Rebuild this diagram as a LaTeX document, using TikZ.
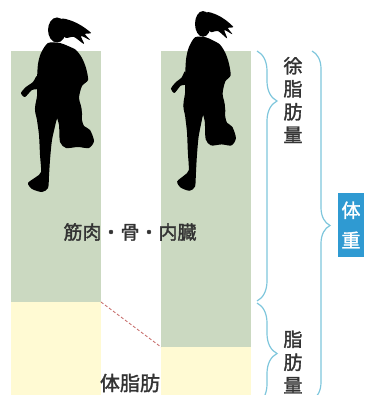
\documentclass[tikz,border=0pt]{standalone}
\usepackage{fontspec}
\newfontfamily\jpfont[FakeBold=1.6]{Noto Sans CJK JP}
\usetikzlibrary{decorations.pathreplacing}
\definecolor{clean}{HTML}{CBD9C1}
\definecolor{cfat}{HTML}{FFFAD3}
\definecolor{cbrace}{HTML}{7EC6DC}
\definecolor{cweight}{HTML}{2F9AD2}
\definecolor{cdash}{HTML}{C2615F}
\definecolor{ctext}{HTML}{333333}
\tikzset{
  lean/.style={fill=clean},
  fat/.style={fill=cfat},
  lbl/.style={font=\jpfont\fontsize{19}{21}\selectfont, text=ctext, inner sep=0pt},
  vlbl/.style={lbl, align=center, font=\jpfont\fontsize{19}{23}\selectfont},
  brc/.style={draw=cbrace, line width=1.2pt, decorate, decoration={brace, amplitude=#1}},
  brc/.default=20pt,
  wbox/.style={fill=cweight, text=white, align=center, inner sep=0pt,
    minimum width=26pt, minimum height=64pt, font=\jpfont\fontsize{19}{30}\selectfont},
  blob/.style={fill=black, smooth cycle, tension=0.45},
  % running figure, origin near the hips
  runner/.pic={
    \begin{scope}[shift={(-57,-100)}]
      \fill (57,30) ellipse [x radius=9, y radius=12.5];
      % ponytail, a few loose strands
      \fill plot[blob] coordinates {(61,19) (72,21) (82,26) (91,33) (85,34) (90,40)
        (81,36) (84,44) (74,37) (66,38) (63,34)};
      % body
      \fill plot[blob] coordinates {(48,43) (60,43) (68,46) (76,50) (82,58) (86,68)
        (88,80) (82,86) (79,98) (81,112) (60,116) (36,112) (37,96) (37,80) (38,64) (41,53)};
      % front arm
      \fill plot[blob] coordinates {(37,76) (40,88) (32,90) (25,97) (21,93) (26,87) (33,82)};
      % front leg
      \fill plot[blob] coordinates {(36,108) (58,110) (56,122) (52,140) (50,160) (49,176)
        (48,188) (42,192) (32,189) (28,183) (36,177) (41,172) (40,155) (39,135) (37,120)};
      % back leg
      \fill plot[blob] coordinates {(56,108) (80,108) (82,120) (84,126) (90,130) (94,141)
        (89,148) (78,147) (66,148) (60,142) (59,125)};
    \end{scope}
  },
}
\begin{document}
\begin{tikzpicture}[x=1pt, y=-1pt]
\useasboundingbox (0,0) rectangle (370,395);
\clip (0,0) rectangle (370,395);

% two bars: lean mass on top, fat below
\coordinate (lt) at (11,51);
\coordinate (lf) at (101,302);
\coordinate (rt) at (161,51);
\coordinate (rf) at (161,347);
\fill[lean] (lt) rectangle (lf);
\fill[fat] (11,302) rectangle (101,400);
\fill[lean] (rt) rectangle (251,347);
\fill[fat] (rf) rectangle (251,400);
\draw[cdash, densely dashed, line width=0.8pt] (lf) -- (rf);

\pic at (57,100) {runner};
\pic[xscale=0.89, yscale=1.03] at (203,96) {runner};

\node[lbl] (organs) at (130,232) {筋肉・骨・内臓};
\node[lbl, font=\jpfont\fontsize{20}{22}\selectfont] (bodyfat) at (130,383) {体脂肪};

% braces on the right
\coordinate (b1) at (257,51);
\coordinate (b2) at (257,301);
\coordinate (b3) at (257,303);
\coordinate (b4) at (257,404);
\coordinate (o1) at (312,51);
\coordinate (o2) at (312,400);
\draw[brc, decoration={aspect=0.2}] (b1) -- (b2);
\draw[brc] (b3) -- (b4);
\draw[brc=18pt] (o1) -- (o2);

\node[vlbl] (ffm) at (293,100) {徐\\脂\\肪\\量};
\node[vlbl] (fm) at (293,362) {脂\\肪\\量};
\node[wbox] (weight) at (351,225) {体\\重};
\end{tikzpicture}
\end{document}
